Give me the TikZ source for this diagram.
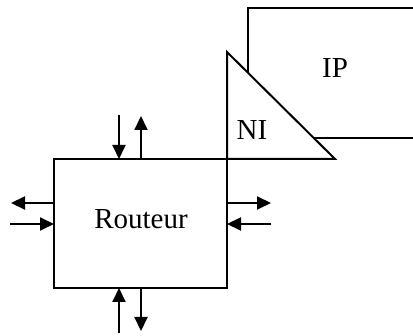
\documentclass[tikz,border=0pt]{standalone}
\usepackage{fontspec}
\setmainfont{Liberation Serif}
\usetikzlibrary{arrows.meta}
\begin{document}
\begin{tikzpicture}[x=1pt,y=-1pt,
  box/.style={draw,line width=2pt,minimum width=173pt,minimum height=129pt,inner sep=0pt},
  edge/.style={line width=2pt},
  port/.style={line width=2pt,-{Triangle[length=14pt,width=13pt]}},
  lbl/.style={font=\fontsize{29}{32}\selectfont,inner sep=0pt}]
\useasboundingbox (0,0) rectangle (413,336);
% IP block
\coordinate (ip1) at (248,73);
\coordinate (ip2) at (248,8);
\coordinate (ip3) at (414,8);
\coordinate (ip4) at (313,138);
\coordinate (ip5) at (414,138);
\draw[edge,line join=miter] (ip1) -- (ip2) -- (ip3);
\draw[edge] (ip4) -- (ip5);
\node[lbl] (ip) at (335,68) {IP};
% NI triangle
\coordinate (t1) at (227,52);
\coordinate (t2) at (335,159);
\coordinate (t3) at (227,159);
\draw[edge,line join=miter] (t1) -- (t2) -- (t3) -- cycle;
\node[lbl] (ni) at (252,130) {NI};
% Router
\node[box] (r) at (140.5,223.5) {};
\node[lbl] (rl) at (141,219) {Routeur};
% ports
\coordinate (a1) at (119,115); \coordinate (a2) at (119,159);
\coordinate (b1) at (141,159); \coordinate (b2) at (141,116);
\coordinate (c1) at (54,203);  \coordinate (c2) at (11,203);
\coordinate (d1) at (10,224);  \coordinate (d2) at (54,224);
\coordinate (e1) at (227,203); \coordinate (e2) at (271,203);
\coordinate (f1) at (271,224); \coordinate (f2) at (227,224);
\coordinate (g1) at (119,333); \coordinate (g2) at (119,288);
\coordinate (h1) at (141,288); \coordinate (h2) at (141,331);
\draw[port] (a1) -- (a2);
\draw[port] (b1) -- (b2);
\draw[port] (c1) -- (c2);
\draw[port] (d1) -- (d2);
\draw[port] (e1) -- (e2);
\draw[port] (f1) -- (f2);
\draw[port] (g1) -- (g2);
\draw[port] (h1) -- (h2);
\end{tikzpicture}
\end{document}
